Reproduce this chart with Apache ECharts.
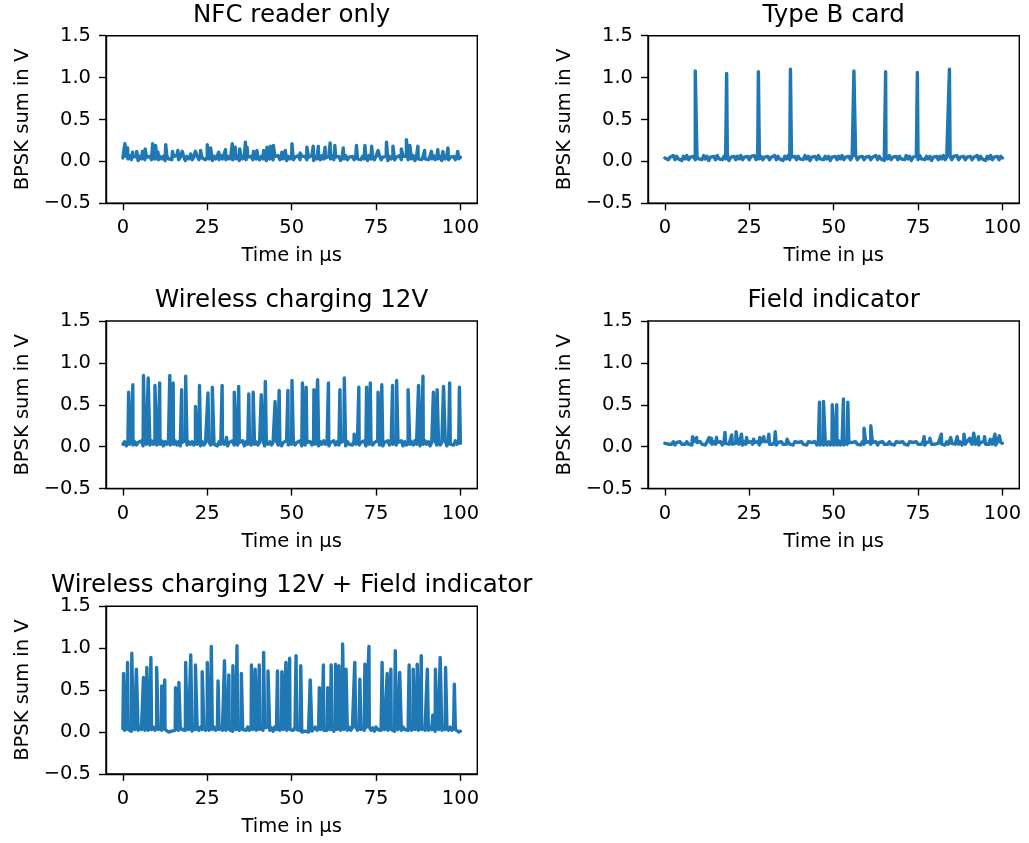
<!DOCTYPE html>
<html><head><meta charset="utf-8">
<script src="https://cdn.jsdelivr.net/npm/echarts@6/dist/echarts.min.js"></script>
<style>html,body{margin:0;padding:0;background:#fff}#c{width:1029px;height:843px}</style>
</head><body><div id="c"></div>
<script>
// ---- titles and ticks ----
const panelTitles = ['NFC reader only', 'Type B card', 'Wireless charging 12V', 'Field indicator', 'Wireless charging 12V + Field indicator'];
const xTickValues = [0, 25, 50, 75, 100];
const yAxisName = 'BPSK sum in V';
const xAxisName = 'Time in µs';
const baseStep = 0.5; // µs between baseline samples

// ---- baseline samples (every 0.5 µs, 0..100 => 201 values) ----
const baseNfc = [
0.04,0.02,0.06,0.03,0.07,0.02,0.05,0.03,0.06,0.01,0.06,0.03,0.07,0.02,0.05,0.04,0.06,0.02,0.07,0.03,
0.05,0.02,0.06,0.03,0.06,0.01,0.07,0.03,0.05,0.02,0.06,0.04,0.07,0.02,0.05,0.03,0.06,0.01,0.06,0.03,
0.06,0.02,0.05,0.03,0.07,0.02,0.06,0.04,0.06,0.02,0.05,0.03,0.07,0.01,0.06,0.03,0.05,0.02,0.07,0.03,
0.04,0.02,0.06,0.03,0.07,0.02,0.05,0.03,0.06,0.01,0.06,0.03,0.07,0.02,0.05,0.04,0.06,0.02,0.07,0.03,
0.05,0.02,0.06,0.03,0.06,0.01,0.07,0.03,0.05,0.02,0.06,0.04,0.07,0.02,0.05,0.03,0.06,0.01,0.06,0.03,
0.06,0.02,0.05,0.03,0.07,0.02,0.06,0.04,0.06,0.02,0.05,0.03,0.07,0.01,0.06,0.03,0.05,0.02,0.07,0.03,
0.04,0.02,0.06,0.03,0.07,0.02,0.05,0.03,0.06,0.01,0.06,0.03,0.07,0.02,0.05,0.04,0.06,0.02,0.07,0.03,
0.05,0.02,0.06,0.03,0.06,0.01,0.07,0.03,0.05,0.02,0.06,0.04,0.07,0.02,0.05,0.03,0.06,0.01,0.06,0.03,
0.06,0.02,0.05,0.03,0.07,0.02,0.06,0.04,0.06,0.02,0.05,0.03,0.07,0.01,0.06,0.03,0.05,0.02,0.07,0.03,
0.04,0.02,0.06,0.03,0.07,0.02,0.05,0.03,0.06,0.01,0.06,0.03,0.07,0.02,0.05,0.04,0.06,0.02,0.07,0.03,
0.05];
const baseTypeB = [
0.04,0.06,0.02,0.05,0.03,0.07,0.02,0.06,0.03,0.05,0.01,0.06,0.03,0.07,0.02,0.05,0.03,0.06,0.02,0.06,
0.03,0.05,0.02,0.07,0.03,0.06,0.01,0.05,0.03,0.06,0.02,0.07,0.03,0.05,0.02,0.06,0.03,0.06,0.01,0.05,
0.03,0.06,0.02,0.06,0.03,0.07,0.02,0.05,0.03,0.06,0.02,0.06,0.04,0.07,0.02,0.05,0.03,0.06,0.02,0.05,
0.04,0.06,0.02,0.05,0.03,0.07,0.02,0.06,0.03,0.05,0.01,0.06,0.03,0.07,0.02,0.05,0.03,0.06,0.02,0.06,
0.03,0.05,0.02,0.07,0.03,0.06,0.01,0.05,0.03,0.06,0.02,0.07,0.03,0.05,0.02,0.06,0.03,0.06,0.01,0.05,
0.03,0.06,0.02,0.06,0.03,0.07,0.02,0.05,0.03,0.06,0.02,0.06,0.04,0.07,0.02,0.05,0.03,0.06,0.02,0.05,
0.04,0.06,0.02,0.05,0.03,0.07,0.02,0.06,0.03,0.05,0.01,0.06,0.03,0.07,0.02,0.05,0.03,0.06,0.02,0.06,
0.03,0.05,0.02,0.07,0.03,0.06,0.01,0.05,0.03,0.06,0.02,0.07,0.03,0.05,0.02,0.06,0.03,0.06,0.01,0.05,
0.03,0.06,0.02,0.06,0.03,0.07,0.02,0.05,0.03,0.06,0.02,0.06,0.04,0.07,0.02,0.05,0.03,0.06,0.02,0.05,
0.04,0.06,0.02,0.05,0.03,0.07,0.02,0.06,0.03,0.05,0.01,0.06,0.03,0.07,0.02,0.05,0.03,0.06,0.02,0.06,
0.04];
const baseWc = [
0.03,0.06,0.01,0.05,0.03,0.07,0.02,0.06,0.02,0.05,0.03,0.07,0.01,0.06,0.03,0.05,0.02,0.07,0.03,0.06,
0.02,0.05,0.03,0.07,0.01,0.06,0.03,0.06,0.02,0.05,0.03,0.07,0.02,0.06,0.01,0.05,0.03,0.07,0.02,0.06,
0.03,0.06,0.02,0.05,0.03,0.07,0.01,0.06,0.02,0.05,0.03,0.06,0.02,0.07,0.03,0.05,0.01,0.06,0.03,0.07,
0.03,0.06,0.01,0.05,0.03,0.07,0.02,0.06,0.02,0.05,0.03,0.07,0.01,0.06,0.03,0.05,0.02,0.07,0.03,0.06,
0.02,0.05,0.03,0.07,0.01,0.06,0.03,0.06,0.02,0.05,0.03,0.07,0.02,0.06,0.01,0.05,0.03,0.07,0.02,0.06,
0.03,0.06,0.02,0.05,0.03,0.07,0.01,0.06,0.02,0.05,0.03,0.06,0.02,0.07,0.03,0.05,0.01,0.06,0.03,0.07,
0.03,0.06,0.01,0.05,0.03,0.07,0.02,0.06,0.02,0.05,0.03,0.07,0.01,0.06,0.03,0.05,0.02,0.07,0.03,0.06,
0.02,0.05,0.03,0.07,0.01,0.06,0.03,0.06,0.02,0.05,0.03,0.07,0.02,0.06,0.01,0.05,0.03,0.07,0.02,0.06,
0.03,0.06,0.02,0.05,0.03,0.07,0.01,0.06,0.02,0.05,0.03,0.06,0.02,0.07,0.03,0.05,0.01,0.06,0.03,0.07,
0.03,0.06,0.01,0.05,0.03,0.07,0.02,0.06,0.02,0.05,0.03,0.07,0.01,0.06,0.03,0.05,0.02,0.07,0.03,0.06,
0.04];
const baseField = [
0.04,0.06,0.03,0.05,0.03,0.06,0.02,0.05,0.04,0.06,0.03,0.05,0.03,0.06,0.03,0.05,0.02,0.06,0.04,0.05,
0.03,0.06,0.03,0.05,0.02,0.06,0.04,0.05,0.03,0.06,0.03,0.05,0.03,0.06,0.02,0.05,0.04,0.06,0.03,0.05,
0.03,0.05,0.04,0.06,0.03,0.05,0.02,0.06,0.03,0.05,0.04,0.06,0.03,0.05,0.03,0.06,0.02,0.05,0.03,0.06,
0.04,0.06,0.03,0.05,0.03,0.06,0.02,0.05,0.04,0.06,0.03,0.05,0.03,0.06,0.03,0.05,0.02,0.06,0.04,0.05,
0.03,0.06,0.03,0.05,0.02,0.06,0.04,0.05,0.03,0.06,0.02,0.07,0.02,0.06,0.02,0.07,0.02,0.06,0.02,0.07,
0.02,0.06,0.02,0.07,0.02,0.06,0.02,0.07,0.03,0.05,0.03,0.05,0.04,0.06,0.03,0.05,0.02,0.06,0.03,0.05,
0.04,0.06,0.03,0.05,0.03,0.06,0.02,0.05,0.04,0.06,0.03,0.05,0.03,0.06,0.03,0.05,0.02,0.06,0.04,0.05,
0.03,0.06,0.03,0.05,0.02,0.06,0.04,0.05,0.03,0.06,0.03,0.05,0.03,0.06,0.02,0.05,0.04,0.06,0.03,0.05,
0.03,0.05,0.04,0.06,0.03,0.05,0.02,0.06,0.03,0.05,0.04,0.06,0.03,0.05,0.03,0.06,0.02,0.05,0.03,0.06,
0.04,0.06,0.03,0.05,0.03,0.06,0.02,0.05,0.04,0.06,0.03,0.05,0.03,0.06,0.03,0.05,0.02,0.06,0.04,0.05,
0.04];
const baseBoth = [
0.04,0.02,0.06,0.03,0.05,0.01,0.06,0.03,0.05,0.02,0.06,0.03,0.05,0.02,0.06,0.02,0.05,0.03,0.06,0.02,
0.05,0.03,0.06,0.02,0.05,0.03,0.01,0.00,-0.01,0.01,0.00,0.02,0.05,0.02,0.06,0.03,0.05,0.02,0.06,0.03,
0.05,0.01,0.06,0.03,0.05,0.02,0.06,0.03,0.05,0.02,0.06,0.02,0.05,0.03,0.06,0.02,0.05,0.03,0.06,0.02,
0.04,0.02,0.06,0.03,0.05,0.01,0.06,0.03,0.05,0.02,0.06,0.03,0.05,0.02,0.06,0.02,0.05,0.03,0.06,0.02,
0.05,0.03,0.06,0.02,0.05,0.03,0.06,0.02,0.05,0.01,0.06,0.03,0.05,0.02,0.06,0.03,0.05,0.02,0.06,0.03,
0.05,0.02,0.06,0.03,0.05,0.02,0.00,-0.02,0.01,-0.01,0.00,0.02,0.01,0.03,0.06,0.02,0.05,0.03,0.06,0.02,
0.04,0.02,0.06,0.03,0.05,0.01,0.06,0.03,0.05,0.02,0.06,0.03,0.05,0.02,0.06,0.02,0.05,0.03,0.06,0.02,
0.05,0.03,0.06,0.02,0.05,0.03,0.06,0.02,0.05,0.01,0.06,0.03,0.05,0.02,0.06,0.03,0.05,0.02,0.06,0.03,
0.05,0.01,0.06,0.03,0.05,0.02,0.06,0.03,0.05,0.02,0.06,0.02,0.05,0.03,0.06,0.02,0.05,0.03,0.06,0.02,
0.04,0.02,0.06,0.03,0.05,0.01,0.06,0.03,0.05,0.02,0.06,0.03,0.05,0.02,0.06,0.02,0.05,0.03,0.04,0.00,
0.01];

// ---- spikes: positions (µs) and peak values (V) ----
const nfcSpikeX = [0.6,1.4,2.9,4.1,5.8,6.6,8.8,9.7,10.4,12.7,14.7,16.3,17.6,20.1,21.5,23.0,25.0,26.0,28.4,30.4,32.4,33.3,34.6,36.3,36.8,38.7,39.7,41.7,42.7,43.7,44.6,47.1,48.1,50.1,52.5,54.5,56.4,57.9,59.9,61.4,62.8,65.3,69.2,71.7,73.7,75.6,78.1,80.0,82.5,84.0,85.0,87.4,89.4,91.4,93.3,94.8,96.3,99.2];
const nfcSpikeY = [0.21,0.16,0.11,0.12,0.12,0.15,0.21,0.19,0.11,0.20,0.12,0.13,0.12,0.09,0.12,0.13,0.20,0.16,0.11,0.14,0.21,0.17,0.15,0.23,0.17,0.12,0.13,0.13,0.17,0.18,0.19,0.11,0.13,0.21,0.10,0.17,0.18,0.18,0.17,0.22,0.19,0.16,0.19,0.19,0.18,0.13,0.23,0.18,0.15,0.26,0.19,0.18,0.13,0.12,0.14,0.12,0.16,0.12];

const typeBSpikeX = [9.0,18.3,27.7,37.2,56.0,65.4,74.8,84.3];
const typeBSpikeY = [1.08,1.05,1.07,1.10,1.08,1.07,1.06,1.10];

const wcSpikeX = [1.7,2.95,6.1,7.5,9.5,10.9,13.9,14.9,17.4,18.6,21.5,22.7,25.2,26.5,29.4,30.7,33.0,34.3,37.3,38.6,41.0,42.2,45.1,46.3,48.9,50.1,53.2,54.3,56.6,57.7,60.9,64.3,65.6,68.5,69.9,72.2,73.3,75.6,76.7,79.9,81.1,84.5,87.6,88.9,92.0,93.1,95.0,96.8,99.7];
const wcSpikeY = [0.65,0.74,0.85,0.82,0.73,0.76,0.85,0.76,0.68,0.84,0.48,0.73,0.64,0.71,0.73,0.11,0.65,0.72,0.63,0.65,0.62,0.78,0.54,0.67,0.67,0.79,0.76,0.71,0.68,0.80,0.76,0.68,0.82,0.15,0.71,0.71,0.76,0.65,0.74,0.73,0.79,0.68,0.73,0.84,0.65,0.68,0.72,0.76,0.71];

const fieldSpikeX = [8.2,9.4,13.1,13.8,15.3,17.8,19.8,21.1,22.7,24.2,26.3,28.1,29.3,30.8,32.7,36.2,45.8,47.0,49.6,50.9,52.9,54.2,59.0,61.0,76.8,78.5,81.9,84.7,86.6,88.6,90.3,91.5,92.9,94.7,96.4,97.8,99.1];
const fieldSpikeY = [0.12,0.11,0.11,0.10,0.11,0.17,0.14,0.18,0.15,0.11,0.09,0.11,0.12,0.15,0.18,0.09,0.53,0.54,0.50,0.50,0.57,0.53,0.22,0.25,0.12,0.10,0.15,0.11,0.12,0.15,0.10,0.16,0.12,0.12,0.09,0.15,0.13];

const bothSpikeX = [0.2,1.4,2.65,4.0,6.1,7.1,8.3,10.0,11.5,12.4,15.6,16.6,18.6,20.1,21.5,23.5,25.0,26.2,28.2,30.1,31.4,32.6,33.8,35.1,38.1,39.2,40.4,41.7,43.0,45.8,47.1,48.3,49.4,51.3,52.7,55.5,58.2,59.4,60.7,61.7,63.0,64.0,65.1,66.1,68.7,70.2,71.7,72.9,76.8,78.3,79.4,80.7,82.0,84.8,86.0,87.2,88.4,90.2,91.8,92.6,94.0,95.6,98.2];
const bothSpikeY = [0.70,0.83,0.94,0.75,0.65,0.77,0.89,0.77,0.55,0.62,0.53,0.59,0.83,0.92,0.80,0.72,0.83,1.02,0.61,0.85,0.68,0.79,1.03,0.70,0.80,0.75,0.80,0.95,0.73,0.73,0.72,0.83,0.88,0.91,0.79,0.62,0.53,0.80,0.53,0.80,0.81,0.79,1.05,0.75,0.83,0.63,0.81,1.02,0.83,0.70,0.75,0.97,0.71,0.80,0.75,0.81,0.91,0.75,0.20,0.75,0.89,0.77,0.57];

// ---- build traces ----
function buildTrace(base, sx, sy) {
  const pts = base.map((v, i) => [i * baseStep, v]);
  sx.forEach((x, k) => pts.push([x, sy[k]]));
  pts.sort((a, b) => a[0] - b[0]);
  return pts;
}
const traces = [
  buildTrace(baseNfc, nfcSpikeX, nfcSpikeY),
  buildTrace(baseTypeB, typeBSpikeX, typeBSpikeY),
  buildTrace(baseWc, wcSpikeX, wcSpikeY),
  buildTrace(baseField, fieldSpikeX, fieldSpikeY),
  buildTrace(baseBoth, bothSpikeX, bothSpikeY)
];

// ---- layout ----
const FONT = 'DejaVu Sans';
const gl = [106, 648, 106, 648, 106];
const gt = [35.7, 35.7, 321, 321, 606.3];
const GW = 371.3, GH = 167.6;

const grids = [], xAxes = [], yAxes = [], series = [], titles = [];
for (let i = 0; i < 5; i++) {
  grids.push({left: gl[i], top: gt[i], width: GW, height: GH, show: true, borderColor: '#000', borderWidth: 1.4, containLabel: false});
  titles.push({text: panelTitles[i], left: gl[i] + GW / 2, top: gt[i] - 33, textAlign: 'center', padding: 0,
    textStyle: {fontFamily: FONT, fontSize: 24.5, fontWeight: 'normal', color: '#000'}});
  xAxes.push({type: 'value', gridIndex: i, min: -5, max: 105,
    name: xAxisName, nameLocation: 'middle', nameGap: 43,
    nameTextStyle: {fontFamily: FONT, fontSize: 19.5, color: '#000'},
    axisLine: {show: true, onZero: false, lineStyle: {color: '#000', width: 1.4}},
    axisTick: {show: true, length: 7, customValues: xTickValues, lineStyle: {color: '#000', width: 1.4}},
    axisLabel: {customValues: xTickValues, margin: 15, fontFamily: FONT, fontSize: 19.5, color: '#000'},
    splitLine: {show: false}});
  yAxes.push({type: 'value', gridIndex: i, min: -0.5, max: 1.5, interval: 0.5,
    name: yAxisName, nameLocation: 'middle', nameRotate: 90, nameGap: 73,
    nameTextStyle: {fontFamily: FONT, fontSize: 19.5, color: '#000'},
    axisLine: {show: true, onZero: false, lineStyle: {color: '#000', width: 1.4}},
    axisTick: {show: true, length: 7, lineStyle: {color: '#000', width: 1.4}},
    axisLabel: {margin: 15, fontFamily: FONT, fontSize: 19.5, color: '#000',
      formatter: v => (v < 0 ? '\u2212' : '') + Math.abs(v).toFixed(1)},
    splitLine: {show: false}});
  series.push({type: 'line', xAxisIndex: i, yAxisIndex: i, data: traces[i], showSymbol: false, symbol: 'none',
    clip: true, lineStyle: {color: '#1f77b4', width: 3.4, join: 'round', cap: 'round'}, silent: true});
}

const chart = echarts.init(document.getElementById('c'), null, {renderer: 'canvas'});
chart.setOption({animation: false, backgroundColor: '#fff', title: titles, grid: grids, xAxis: xAxes, yAxis: yAxes, series: series});
</script>
</body></html>
